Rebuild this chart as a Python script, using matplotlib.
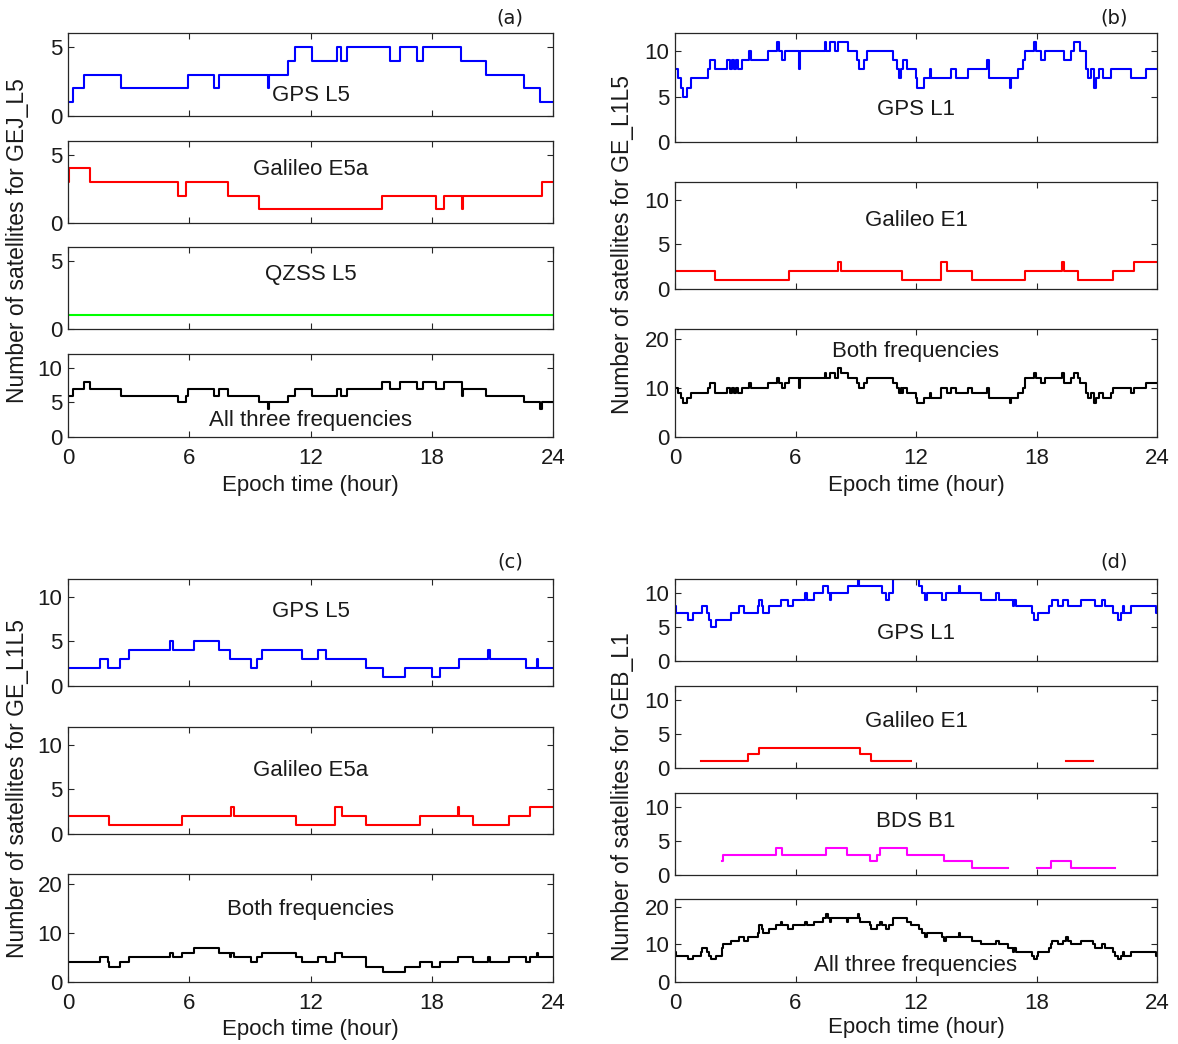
import numpy as np
import matplotlib
matplotlib.use("Agg")
import matplotlib.pyplot as plt

nan = np.nan

# ---------------- data: change times (hour) and satellite counts ----------------
# (a) GEJ_L5
a_gps_t = [0, 0.24, 0.79, 2.62, 5.96, 7.21, 7.45, 9.91, 9.96, 10.88, 11.25, 12.07, 13.30, 13.49, 13.82,
           15.93, 16.44, 17.26, 17.57, 19.46, 20.66, 22.58, 23.35]
a_gps_v = [1, 2, 3, 2, 3, 2, 3, 2, 3, 4, 5, 4, 5, 4, 5, 4, 5, 4, 5, 4, 3, 2, 1]
a_gal_t = [0, 0.03, 1.10, 5.45, 5.84, 7.93, 9.47, 15.52, 18.23, 18.60, 19.50, 19.56, 23.47]
a_gal_v = [3, 4, 3, 2, 3, 2, 1, 2, 1, 2, 1, 2, 3]
a_qzss_t = [0]
a_qzss_v = [1]
a_all_t = [0, 0.24, 0.79, 1.10, 2.62, 5.45, 5.84, 5.96, 7.21, 7.45, 7.93, 9.47, 9.91, 9.96, 10.88,
           11.25, 12.07, 13.30, 13.49, 13.82, 15.52, 15.93, 16.44, 17.26, 17.57, 18.23, 18.60, 19.50,
           19.56, 20.66, 22.58, 23.35, 23.47]
a_all_v = [6, 7, 8, 7, 6, 5, 6, 7, 6, 7, 6, 5, 4, 5, 6, 7, 6, 7, 6, 7, 8, 7, 8, 7, 8, 7, 8, 6, 7, 6, 5, 4, 5]

# (b) GE_L1L5 (L1)
b_gps_t = [0, 0.13, 0.30, 0.38, 0.60, 0.78, 1.66, 1.75, 1.99, 2.59, 2.72, 2.83, 2.96, 3.05, 3.14, 3.33,
           3.70, 3.76, 4.63, 5.06, 5.19, 5.32, 5.47, 6.16, 6.21, 7.46, 7.52, 7.70, 7.98, 8.13, 8.60, 9.04,
           9.15, 9.41, 9.56, 10.83, 11.05, 11.14, 11.24, 11.33, 11.57, 11.98, 12.07, 12.41, 12.69, 12.76,
           13.75, 13.99, 14.59, 15.52, 15.63, 16.67, 16.73, 17.10, 17.34, 17.41, 17.90, 17.99, 18.21,
           18.40, 19.35, 19.72, 19.85, 20.17, 20.47, 20.58, 20.73, 20.84, 20.95, 21.10, 21.32, 21.71,
           22.72, 23.44]
b_gps_v = [8, 7, 6, 5, 6, 7, 8, 9, 8, 9, 8, 9, 8, 9, 8, 9, 10, 9, 10, 11, 10, 9, 10, 8, 10, 11, 10, 11,
           10, 11, 10, 9, 8, 9, 10, 9, 8, 7, 8, 9, 8, 7, 6, 7, 8, 7, 8, 7, 8, 9, 7, 6, 7, 8, 9, 10, 11, 10,
           9, 10, 9, 10, 11, 10, 8, 7, 8, 6, 7, 8, 7, 8, 7, 8]
b_gal_t = [0, 1.99, 5.66, 8.13, 8.26, 11.29, 13.23, 13.56, 14.77, 17.43, 19.29, 19.38, 20.07, 21.80, 22.87]
b_gal_v = [2, 1, 2, 3, 2, 1, 3, 2, 1, 2, 3, 2, 1, 2, 3]
b_both_t = [0, 0.13, 0.30, 0.38, 0.60, 0.78, 1.66, 1.75, 1.99, 2.59, 2.72, 2.83, 2.96, 3.05, 3.14, 3.33,
            3.70, 3.76, 4.63, 5.06, 5.19, 5.32, 5.47, 5.66, 6.16, 6.21, 7.46, 7.52, 7.70, 7.98, 8.13, 8.26,
            8.60, 9.04, 9.15, 9.41, 9.56, 10.83, 11.05, 11.14, 11.24, 11.29, 11.33, 11.57, 11.98, 12.07,
            12.41, 12.69, 12.76, 13.23, 13.56, 13.75, 13.99, 14.59, 14.77, 15.52, 15.63, 16.67, 16.73,
            17.10, 17.34, 17.41, 17.43, 17.90, 17.99, 18.21, 18.40, 19.29, 19.35, 19.38, 19.72, 19.85,
            20.07, 20.17, 20.47, 20.58, 20.73, 20.84, 20.95, 21.10, 21.32, 21.71, 21.80, 22.72, 22.87, 23.44]
b_both_v = [10, 9, 8, 7, 8, 9, 10, 11, 9, 10, 9, 10, 9, 10, 9, 10, 11, 10, 11, 12, 11, 10, 11, 12, 10, 12,
            13, 12, 13, 12, 14, 13, 12, 11, 10, 11, 12, 11, 10, 9, 10, 9, 10, 9, 8, 7, 8, 9, 8, 10, 9, 10,
            9, 10, 9, 10, 8, 7, 8, 9, 10, 11, 12, 13, 12, 11, 12, 13, 12, 11, 12, 13, 12, 11, 9, 8, 9, 7,
            8, 9, 8, 9, 10, 9, 10, 11]

# (c) GE_L1L5 (L5)
c_gps_t = [0, 1.58, 1.98, 2.57, 3.03, 5.05, 5.20, 6.24, 7.47, 8.02, 9.05, 9.33, 9.60, 11.57, 12.39, 12.76,
           14.74, 15.61, 16.67, 17.99, 18.40, 19.34, 20.79, 20.86, 22.64, 23.19, 23.25]
c_gps_v = [2, 3, 2, 3, 4, 5, 4, 5, 4, 3, 2, 3, 4, 3, 4, 3, 2, 1, 2, 1, 2, 3, 4, 3, 2, 3, 2]
c_gal_t = [0, 2.02, 5.64, 8.08, 8.21, 11.26, 13.23, 13.56, 14.74, 17.41, 19.29, 19.34, 20.04, 21.82, 22.88]
c_gal_v = [2, 1, 2, 3, 2, 1, 3, 2, 1, 2, 3, 2, 1, 2, 3]
c_both_t = [0, 1.58, 1.98, 2.02, 2.57, 3.03, 5.05, 5.20, 5.64, 6.24, 7.47, 8.02, 8.08, 8.21, 9.05, 9.33,
            9.60, 11.26, 11.57, 12.39, 12.76, 13.23, 13.56, 14.74, 15.61, 16.67, 17.41, 17.99, 18.40,
            19.29, 20.04, 20.79, 20.86, 21.82, 22.64, 22.88, 23.19, 23.25]
c_both_v = [4, 5, 4, 3, 4, 5, 6, 5, 6, 7, 6, 5, 6, 5, 4, 5, 6, 5, 4, 5, 4, 6, 5, 3, 2, 3, 4, 3, 4, 5, 4,
            5, 4, 5, 4, 5, 6, 5]

# (d) GEB_L1
d_gps_t = [0, 0.05, 0.67, 0.91, 1.34, 1.60, 1.71, 1.79, 2.03, 2.77, 3.20, 3.42, 4.11, 4.20, 4.32, 4.39,
           4.69, 5.28, 5.62, 5.88, 6.49, 6.59, 6.90, 7.37, 7.61, 7.70, 7.76, 8.60, 9.10, 9.15, 10.31, 10.49,
           10.68, 10.83, 12.13, 12.32, 12.45, 12.54, 13.28, 13.47, 14.13, 14.21, 15.24, 15.98, 16.11,
           16.82, 16.90, 16.96, 17.79, 17.90, 18.08, 18.64, 18.77, 19.09, 19.33, 19.57, 20.22, 20.91,
           21.25, 21.43, 21.80, 22.06, 22.21, 22.30, 22.38, 22.72, 23.95]
d_gps_v = [8, 7, 6, 7, 8, 7, 6, 5, 6, 7, 8, 7, 8, 9, 8, 7, 8, 9, 8, 9, 10, 9, 10, 11, 10, 9, 10, 11, 12,
           11, 10, 9, 10, 12, 11, 10, 9, 10, 9, 10, 11, 10, 9, 10, 9, 8, 9, 8, 7, 6, 7, 8, 9, 8, 9, 8, 9,
           8, 9, 8, 7, 6, 7, 8, 7, 8, 7]
d_gal_t = [0, 1.28, 3.61, 4.20, 9.23, 9.75, 11.74, 19.48, 20.82]
d_gal_v = [nan, 1, 2, 3, 2, 1, nan, 1, nan]
d_bds_t = [0, 2.34, 2.38, 5.04, 5.32, 7.52, 8.56, 9.71, 10.05, 10.21, 11.57, 13.38, 14.77, 16.60, 18.03,
           18.72, 19.74, 21.90]
d_bds_v = [nan, 2, 3, 4, 3, 4, 3, 2, 3, 4, 3, 2, 1, nan, 1, 2, 1, nan]
d_all_t = [0, 0.05, 0.67, 0.91, 1.28, 1.34, 1.60, 1.71, 1.79, 2.03, 2.34, 2.38, 2.77, 3.20, 3.42, 3.61,
           4.11, 4.20, 4.32, 4.39, 4.69, 5.04, 5.28, 5.32, 5.62, 5.88, 6.49, 6.59, 6.90, 7.37, 7.52, 7.61,
           7.70, 7.76, 8.56, 8.60, 9.10, 9.15, 9.23, 9.71, 9.75, 10.05, 10.21, 10.31, 10.49, 10.68, 10.83,
           11.57, 11.74, 12.13, 12.32, 12.45, 12.54, 13.28, 13.38, 13.47, 14.13, 14.21, 14.77, 15.24,
           15.98, 16.11, 16.60, 16.82, 16.90, 16.96, 17.79, 17.90, 18.03, 18.08, 18.64, 18.72, 18.77,
           19.09, 19.33, 19.48, 19.57, 19.74, 20.22, 20.82, 20.91, 21.25, 21.43, 21.80, 21.90, 22.06,
           22.21, 22.30, 22.38, 22.72, 23.95]
d_all_v = [8, 7, 6, 7, 8, 9, 8, 7, 6, 7, 9, 10, 11, 12, 11, 12, 13, 15, 14, 13, 14, 15, 16, 15, 14, 15,
           16, 15, 16, 17, 18, 17, 16, 17, 16, 17, 18, 17, 16, 15, 14, 15, 16, 15, 14, 15, 17, 16, 15, 14,
           13, 12, 13, 12, 11, 12, 13, 12, 11, 10, 11, 10, 9, 8, 9, 8, 7, 6, 7, 8, 9, 10, 11, 10, 11, 12,
           11, 10, 11, 10, 9, 10, 9, 8, 7, 6, 7, 8, 7, 8, 7]

x_ticks = [0, 6, 12, 18, 24]
x_label = "Epoch time (hour)"

# ---------------- styling ----------------
W, H = 1178, 1044
FS = 16
FS_YLAB = 16.5
FONT = ["Liberation Sans", "DejaVu Sans"]
plt.rcParams["font.family"] = FONT
plt.rcParams["font.size"] = FS
AX_COL = "#262626"
TXT_COL = "#1a1a1a"

fig = plt.figure(figsize=(W / 100, H / 100), dpi=100)


def make_ax(x0, x1, top, bot):
    ax = fig.add_axes([x0 / W, 1 - bot / H, (x1 - x0) / W, (bot - top) / H])
    for s in ax.spines.values():
        s.set_color(AX_COL)
        s.set_linewidth(0.9)
    ax.tick_params(direction="in", top=True, right=True, length=4.5, width=0.8,
                   colors=AX_COL, labelsize=FS, labelcolor=TXT_COL)
    ax.tick_params(axis="x", pad=8)
    ax.tick_params(axis="y", pad=4)
    ax.set_xlim(0, 24)
    ax.set_xticks(x_ticks)
    return ax


def draw(ax, t, v, color):
    x = np.array(list(t) + [24.0], dtype=float)
    y = np.array(list(v) + [v[-1]], dtype=float)
    ax.step(x, y, where="post", color=color, lw=1.5, clip_on=True)


def label(ax, text, yfrac):
    ax.text(0.5, yfrac, text, transform=ax.transAxes, ha="center", va="center",
            fontsize=FS, color=TXT_COL)


LX0, LX1 = 68, 553
RX0, RX1 = 675, 1157

panels = [
    (LX0, LX1, [
        (33, 116, a_gps_t, a_gps_v, "blue", "GPS L5", 0.25, 6, [0, 5]),
        (141, 223, a_gal_t, a_gal_v, "red", "Galileo E5a", 0.65, 6, [0, 5]),
        (247, 329, a_qzss_t, a_qzss_v, "#00ff00", "QZSS L5", 0.66, 6, [0, 5]),
        (354, 437, a_all_t, a_all_v, "black", "All three frequencies", 0.2, 12, [0, 5, 10]),
    ], "Number of satellites for GEJ_L5", "(a)", 18, 485, 18, 241),
    (RX0, RX1, [
        (33, 142, b_gps_t, b_gps_v, "blue", "GPS L1", 0.30, 12, [0, 5, 10]),
        (182, 289, b_gal_t, b_gal_v, "red", "Galileo E1", 0.64, 12, [0, 5, 10]),
        (329, 437, b_both_t, b_both_v, "black", "Both frequencies", 0.79, 22, [0, 10, 20]),
    ], "Number of satellites for GE_L1L5", "(b)", 18, 485, 622, 244),
    (LX0, LX1, [
        (579, 686, c_gps_t, c_gps_v, "blue", "GPS L5", 0.70, 12, [0, 5, 10]),
        (727, 834, c_gal_t, c_gal_v, "red", "Galileo E5a", 0.59, 12, [0, 5, 10]),
        (874, 982, c_both_t, c_both_v, "black", "Both frequencies", 0.67, 22, [0, 10, 20]),
    ], "Number of satellites for GE_L1L5", "(c)", 562, 1029, 18, 788),
    (RX0, RX1, [
        (579, 661, d_gps_t, d_gps_v, "blue", "GPS L1", 0.34, 12, [0, 5, 10]),
        (686, 768, d_gal_t, d_gal_v, "red", "Galileo E1", 0.57, 12, [0, 5, 10]),
        (793, 875, d_bds_t, d_bds_v, "magenta", "BDS B1", 0.65, 12, [0, 5, 10]),
        (899, 982, d_all_t, d_all_v, "black", "All three frequencies", 0.20, 22, [0, 10, 20]),
    ], "Number of satellites for GEB_L1", "(d)", 562, 1027, 622, 797),
]

for x0, x1, rows, ylab, tag, tag_y, xlab_y, ylab_x, ylab_y in panels:
    n = len(rows)
    for i, (top, bot, t, v, col, txt, ty, ymax, yt) in enumerate(rows):
        ax = make_ax(x0, x1, top, bot)
        draw(ax, t, v, col)
        ax.set_ylim(0, ymax)
        ax.set_yticks(yt)
        label(ax, txt, ty)
        if i < n - 1:
            ax.set_xticklabels([])
    fig.text(ylab_x / W, 1 - ylab_y / H, ylab, rotation=90,
             ha="center", va="center", fontsize=FS_YLAB, color=TXT_COL)
    fig.text((x0 + x1) / 2 / W, 1 - xlab_y / H, x_label, ha="center", va="center",
             fontsize=FS, color=TXT_COL)
    fig.text((x1 - 43) / W, 1 - tag_y / H, tag, ha="center", va="center",
             fontsize=14, family="DejaVu Sans", color=TXT_COL)

fig.savefig("out.png", dpi=100, facecolor="white")
